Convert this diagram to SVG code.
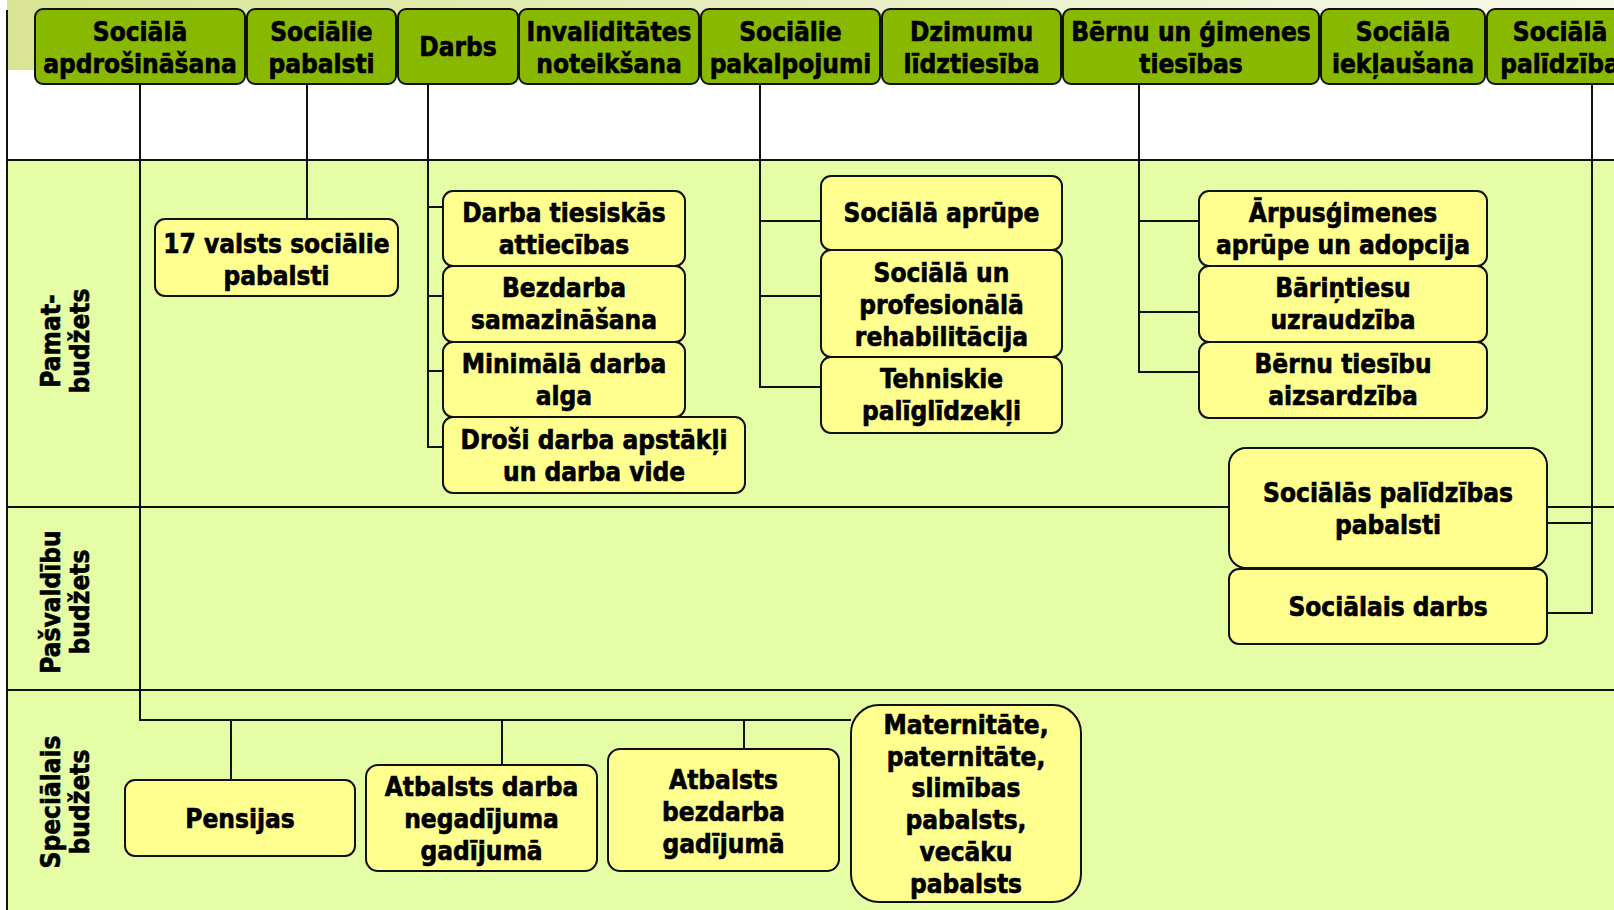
<svg xmlns="http://www.w3.org/2000/svg" width="1614" height="910" viewBox="0 0 1614 910">
<defs>
<linearGradient id="topband" x1="0" y1="0" x2="1" y2="0">
<stop offset="0" stop-color="#d9e594"/>
<stop offset="0.5" stop-color="#e9efc2"/>
<stop offset="1" stop-color="#f7f9ea"/>
</linearGradient>
</defs>
<style>
.hdr{fill:#89b800;stroke:#111;stroke-width:2}
.box{fill:#ffff8f;stroke:#111;stroke-width:2}
.ln{fill:none;stroke:#111;stroke-width:2}
text{font-family:"DejaVu Sans Condensed","DejaVu Sans",sans-serif;font-weight:bold;font-size:26px;fill:#000;stroke:#000;stroke-width:0.6;text-anchor:middle}
</style>
<rect x="0" y="0" width="1614" height="910" fill="#ffffff"/>
<rect x="7" y="0" width="1607" height="70" fill="url(#topband)"/>
<rect x="7" y="160" width="1607" height="750" fill="#e5fda5"/>
<g id="grid" class="ln">
<line x1="7" y1="10" x2="7" y2="910"/>
<line x1="7" y1="160" x2="1614" y2="160"/>
<line x1="7" y1="507" x2="1614" y2="507"/>
<line x1="7" y1="690" x2="1614" y2="690"/>
</g>
<g id="lane-labels">
<g transform="translate(65.5,341) rotate(-90)"><text x="0" y="-5.5">Pamat-</text><text x="0" y="23.5">budžets</text></g>
<g transform="translate(65.5,602) rotate(-90)"><text x="0" y="-5.5">Pašvaldību</text><text x="0" y="23.5">budžets</text></g>
<g transform="translate(65.5,802) rotate(-90)"><text x="0" y="-5.5">Speciālais</text><text x="0" y="23.5">budžets</text></g>
</g>
<g id="connectors" class="ln">
<polyline points="140,84 140,720 851,720"/>
<line x1="231" y1="720" x2="231" y2="780"/>
<line x1="502" y1="720" x2="502" y2="765"/>
<line x1="744" y1="720" x2="744" y2="749"/>
<line x1="307" y1="84" x2="307" y2="219"/>
<polyline points="428,84 428,447 443,447"/>
<line x1="428" y1="207" x2="443" y2="207"/>
<line x1="428" y1="296" x2="443" y2="296"/>
<line x1="428" y1="371" x2="443" y2="371"/>
<polyline points="760,84 760,387 821,387"/>
<line x1="760" y1="221" x2="821" y2="221"/>
<line x1="760" y1="296" x2="821" y2="296"/>
<polyline points="1139,84 1139,372 1199,372"/>
<line x1="1139" y1="221" x2="1199" y2="221"/>
<line x1="1139" y1="312" x2="1199" y2="312"/>
<polyline points="1592,84 1592,613 1547,613"/>
<line x1="1547" y1="523" x2="1592" y2="523"/>
</g>
<g id="h1"><rect class="hdr" x="35" y="9" width="210" height="75" rx="8"/><text x="140" y="41">Sociālā</text><text x="140" y="73">apdrošināšana</text></g>
<g id="h2"><rect class="hdr" x="247" y="9" width="149" height="75" rx="8"/><text x="321.5" y="41">Sociālie</text><text x="321.5" y="73">pabalsti</text></g>
<g id="h3"><rect class="hdr" x="398" y="9" width="120" height="75" rx="8"/><text x="458" y="56">Darbs</text></g>
<g id="h4"><rect class="hdr" x="519" y="9" width="180" height="75" rx="8"/><text x="609" y="41">Invaliditātes</text><text x="609" y="73">noteikšana</text></g>
<g id="h5"><rect class="hdr" x="701" y="9" width="179" height="75" rx="8"/><text x="790.5" y="41">Sociālie</text><text x="790.5" y="73">pakalpojumi</text></g>
<g id="h6"><rect class="hdr" x="882" y="9" width="179" height="75" rx="8"/><text x="971.5" y="41">Dzimumu</text><text x="971.5" y="73">līdztiesība</text></g>
<g id="h7"><rect class="hdr" x="1063" y="9" width="256" height="75" rx="8"/><text x="1191" y="41">Bērnu un ģimenes</text><text x="1191" y="73">tiesības</text></g>
<g id="h8"><rect class="hdr" x="1321" y="9" width="164" height="75" rx="8"/><text x="1403" y="41">Sociālā</text><text x="1403" y="73">iekļaušana</text></g>
<g id="h9"><rect class="hdr" x="1487" y="9" width="146" height="75" rx="8"/><text x="1560" y="41">Sociālā</text><text x="1560" y="73">palīdzība</text></g>
<g id="n-17"><rect class="box" x="155" y="219" width="243" height="77" rx="10"/><text x="276.5" y="253">17 valsts sociālie</text><text x="276.5" y="285">pabalsti</text></g>
<g id="n-darba-tiesiskas"><rect class="box" x="443" y="191" width="242" height="75" rx="10"/><text x="564" y="222">Darba tiesiskās</text><text x="564" y="254">attiecības</text></g>
<g id="n-bezdarba"><rect class="box" x="443" y="266" width="242" height="76" rx="10"/><text x="564" y="297">Bezdarba</text><text x="564" y="329">samazināšana</text></g>
<g id="n-minimala"><rect class="box" x="443" y="342" width="242" height="75" rx="10"/><text x="564" y="373">Minimālā darba</text><text x="564" y="405">alga</text></g>
<g id="n-drosi"><rect class="box" x="443" y="417" width="302" height="76" rx="10"/><text x="594" y="449">Droši darba apstākļi</text><text x="594" y="481">un darba vide</text></g>
<g id="n-aprupe"><rect class="box" x="821" y="176" width="241" height="74" rx="10"/><text x="941.5" y="222">Sociālā aprūpe</text></g>
<g id="n-rehab"><rect class="box" x="821" y="250" width="241" height="107" rx="10"/><text x="941.5" y="282">Sociālā un</text><text x="941.5" y="314">profesionālā</text><text x="941.5" y="346">rehabilitācija</text></g>
<g id="n-tehniskie"><rect class="box" x="821" y="357" width="241" height="76" rx="10"/><text x="941.5" y="388">Tehniskie</text><text x="941.5" y="420">palīglīdzekļi</text></g>
<g id="n-arpusgimenes"><rect class="box" x="1199" y="191" width="288" height="75" rx="10"/><text x="1343" y="222">Ārpusģimenes</text><text x="1343" y="254">aprūpe un adopcija</text></g>
<g id="n-barintiesu"><rect class="box" x="1199" y="266" width="288" height="76" rx="10"/><text x="1343" y="297">Bāriņtiesu</text><text x="1343" y="329">uzraudzība</text></g>
<g id="n-bernu-tiesibu"><rect class="box" x="1199" y="342" width="288" height="76" rx="10"/><text x="1343" y="373">Bērnu tiesību</text><text x="1343" y="405">aizsardzība</text></g>
<g id="n-soc-pal-pabalsti"><rect class="box" x="1229" y="448" width="318" height="120" rx="17"/><text x="1388" y="502">Sociālās palīdzības</text><text x="1388" y="534">pabalsti</text></g>
<g id="n-soc-darbs"><rect class="box" x="1229" y="569" width="318" height="75" rx="10"/><text x="1388" y="616">Sociālais darbs</text></g>
<g id="n-pensijas"><rect class="box" x="125" y="780" width="230" height="76" rx="10"/><text x="240" y="828">Pensijas</text></g>
<g id="n-atb-darba"><rect class="box" x="366" y="765" width="231" height="106" rx="12"/><text x="481.5" y="796">Atbalsts darba</text><text x="481.5" y="828">negadījuma</text><text x="481.5" y="860">gadījumā</text></g>
<g id="n-atb-bezdarba"><rect class="box" x="608" y="749" width="231" height="122" rx="12"/><text x="723.5" y="789">Atbalsts</text><text x="723.5" y="821">bezdarba</text><text x="723.5" y="853">gadījumā</text></g>
<g id="n-maternitate"><rect class="box" x="851" y="705" width="230" height="197" rx="28"/><text x="966" y="734">Maternitāte,</text><text x="966" y="766">paternitāte,</text><text x="966" y="797">slimības</text><text x="966" y="829">pabalsts,</text><text x="966" y="861">vecāku</text><text x="966" y="893">pabalsts</text></g>
</svg>
